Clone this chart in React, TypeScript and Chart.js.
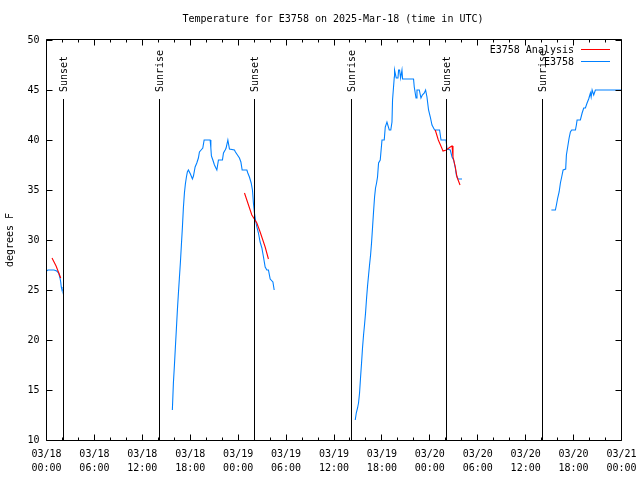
import React, { useEffect, useRef } from 'react';
import { Chart, registerables } from 'chart.js';

Chart.register(...registerables);

// ---------- text ----------
const TITLE = 'Temperature for E3758 on 2025-Mar-18 (time in UTC)';
const Y_TITLE = 'degrees F';
const SERIES_OBS = 'E3758';
const SERIES_ANA = 'E3758 Analysis';
const START_DAY = 18; // 03/18 00:00 UTC is hour 0
const X_MIN = 0;
const X_MAX = 72;
const X_STEP = 6;
const Y_MIN = 10;
const Y_MAX = 50;
const Y_STEP = 5;

// ---------- sun events (hours since 03/18 00:00) ----------
const SUNSET_HOURS = [2.129, 26.046, 50.087];
const SUNRISE_HOURS = [14.150, 38.191, 62.108];
const SUN_LINE_TOP = 44.1;

// ---------- observed E3758 (hours, degF) ----------
const OBS_H1 = [0.0, 0.19, 0.78, 0.94, 1.28, 1.53, 1.69, 1.78, 1.85, 1.94, 2.19];
const OBS_T1 = [26.9, 27.0, 27.0, 27.0, 26.9, 26.7, 26.2, 25.8, 25.3, 25.0, 25.0];

const OBS_H2 = [15.76, 15.89, 16.02, 16.14, 16.27, 16.39, 16.52, 16.64, 16.77, 16.89, 17.02, 17.14, 17.27, 17.39, 17.52, 17.64, 17.77, 18.02, 18.27, 18.40, 18.61, 18.82, 19.02, 19.15, 19.36, 19.57, 19.74, 20.49, 20.58, 20.65, 20.83, 21.03, 21.33, 21.53, 22.03, 22.16, 22.37, 22.49, 22.71, 22.91, 23.53, 23.66, 23.91, 24.16, 24.34, 24.50, 25.09, 25.21, 25.41, 25.63, 25.79, 25.91, 26.04, 26.17, 26.34, 26.54, 26.75, 26.97, 27.17, 27.38, 27.59, 27.79, 28.01, 28.35, 28.51];
const OBS_T2 = [13.0, 15.7, 17.5, 19.3, 21.2, 23.0, 24.7, 26.2, 27.8, 29.5, 31.3, 33.2, 34.7, 35.6, 36.3, 36.8, 37.0, 36.6, 36.1, 36.4, 37.3, 37.7, 38.2, 38.8, 39.0, 39.2, 40.0, 40.0, 39.2, 38.4, 38.0, 37.5, 37.0, 38.0, 38.0, 38.7, 39.0, 39.2, 40.0, 39.1, 39.0, 38.8, 38.5, 38.2, 37.8, 37.0, 37.0, 36.7, 36.3, 35.7, 35.0, 33.7, 32.7, 32.0, 31.3, 30.7, 29.8, 29.2, 28.3, 27.3, 27.0, 27.0, 26.1, 25.8, 25.0];

const OBS_H3 = [38.66, 38.79, 38.95, 39.07, 39.20, 39.32, 39.45, 39.57, 39.70, 39.82, 39.95, 40.08, 40.20, 40.33, 40.45, 40.58, 40.70, 40.83, 40.95, 41.08, 41.20, 41.33, 41.45, 41.58, 41.79, 42.01, 42.29, 42.42, 42.63, 42.92, 43.11, 43.26, 43.33, 43.55, 43.58, 43.80, 44.01, 44.09, 44.21, 44.34, 44.51, 44.59, 45.96, 46.05, 46.27, 46.39, 46.68, 46.89, 47.06, 47.31, 47.47, 47.64, 47.84, 48.06, 48.27, 48.60, 49.22, 49.40, 50.03, 50.15, 50.56, 50.78, 50.98, 51.19, 51.32, 51.53, 52.03];
const OBS_T3 = [12.0, 12.7, 13.2, 13.7, 14.7, 16.2, 17.7, 19.2, 20.5, 21.5, 22.7, 24.2, 25.4, 26.5, 27.5, 28.5, 29.7, 31.3, 32.8, 34.3, 35.2, 35.7, 36.3, 37.7, 38.0, 40.0, 40.0, 41.3, 41.8, 41.0, 41.0, 41.8, 44.0, 46.3, 47.0, 46.2, 46.2, 47.0, 47.0, 46.2, 47.0, 46.1, 46.1, 45.3, 44.2, 45.0, 45.0, 44.2, 44.5, 44.7, 45.0, 44.3, 43.0, 42.3, 41.5, 41.0, 41.0, 40.0, 40.0, 39.1, 39.0, 38.3, 38.0, 37.2, 36.5, 36.1, 36.1];

const OBS_H4 = [63.22, 63.72, 63.85, 64.01, 64.19, 64.35, 64.51, 64.69, 65.01, 65.10, 65.26, 65.44, 65.60, 65.76, 66.23, 66.35, 66.44, 66.85, 67.07, 67.27, 67.48, 67.69, 67.89, 68.11, 68.20, 68.32, 68.52, 68.73, 72.0];
const OBS_T4 = [33.0, 33.0, 33.5, 34.2, 34.8, 35.7, 36.3, 37.0, 37.1, 38.5, 39.3, 40.2, 40.8, 41.0, 41.0, 41.5, 42.0, 42.0, 42.7, 43.2, 43.2, 43.7, 44.1, 44.7, 44.3, 45.0, 44.5, 45.0, 45.0];

// ---------- analysis (hours, degF) ----------
const ANA_H1 = [0.69, 1.2, 1.78];
const ANA_T1 = [28.2, 27.4, 26.2];
const ANA_H2 = [24.79, 25.71, 26.34, 26.75, 27.38, 27.79];
const ANA_T2 = [34.7, 32.5, 31.7, 30.8, 29.3, 28.1];
const ANA_H3 = [48.68, 49.06, 49.44, 49.65, 50.06, 50.56, 50.78, 50.90, 51.19, 51.40, 51.78];
const ANA_T3 = [41.0, 40.0, 39.3, 38.9, 39.0, 39.3, 39.4, 38.3, 37.3, 36.3, 35.5];

// ---------- styles ----------
const OBS_COLOR = 'rgb(0,128,255)';
const ANA_COLOR = 'rgb(255,0,0)';
const FONT = '"DejaVu Sans Mono", "Liberation Mono", monospace';

type Pt = { x: number; y: number | null };

function segmentsToData(segs: [number[], number[]][]): Pt[] {
  const out: Pt[] = [];
  segs.forEach(([hs, ts], i) => {
    if (i > 0) {
      const prev = segs[i - 1][0];
      out.push({ x: (prev[prev.length - 1] + hs[0]) / 2, y: null });
    }
    hs.forEach((h, j) => out.push({ x: h, y: ts[j] }));
  });
  return out;
}

function fmtTick(v: number): string[] {
  const day = START_DAY + Math.floor(v / 24);
  const hr = Math.round(v % 24);
  return ['03/' + String(day).padStart(2, '0'), String(hr).padStart(2, '0') + ':00'];
}

const decorPlugin = {
  id: 'gnuDecor',
  afterDraw(chart: any) {
    const { ctx, chartArea } = chart;
    const xs = chart.scales.x;
    const ys = chart.scales.y;
    const { left, right, top, bottom } = chartArea;
    const fl = Math.floor(left) + 0.5;
    const fr = Math.floor(right) + 0.5;
    const ft = Math.floor(top) - 0.5;
    const fb = Math.floor(bottom) + 0.5;
    ctx.save();
    ctx.strokeStyle = '#000';
    ctx.lineWidth = 1;
    ctx.beginPath();
    ctx.rect(fl, ft, fr - fl, fb - ft);
    // x ticks, every 2 hours, inward on bottom and top
    for (let h = X_MIN; h <= X_MAX; h += 2) {
      const px = Math.floor(xs.getPixelForValue(h)) + 0.5;
      const len = h % X_STEP === 0 ? 6 : 3;
      ctx.moveTo(px, fb);
      ctx.lineTo(px, fb - len);
      ctx.moveTo(px, ft);
      ctx.lineTo(px, ft + len);
    }
    for (let v = Y_MIN; v <= Y_MAX; v += Y_STEP) {
      const py = Math.floor(ys.getPixelForValue(v)) + 0.5;
      ctx.moveTo(fl, py);
      ctx.lineTo(fl + 6, py);
      ctx.moveTo(fr, py);
      ctx.lineTo(fr - 6, py);
    }
    ctx.stroke();

    ctx.fillStyle = '#000';
    ctx.font = '10px ' + FONT;
    // sun labels
    const labelAt = (h: number, txt: string) => {
      const px = Math.floor(xs.getPixelForValue(h)) + 1.5;
      ctx.save();
      ctx.translate(px, 92);
      ctx.rotate(-Math.PI / 2);
      ctx.textAlign = 'left';
      ctx.textBaseline = 'middle';
      ctx.fillText(txt, 0, 0);
      ctx.restore();
    };
    SUNSET_HOURS.forEach((h) => labelAt(h, 'Sunset'));
    SUNRISE_HOURS.forEach((h) => labelAt(h, 'Sunrise'));

    // title
    ctx.textAlign = 'center';
    ctx.textBaseline = 'middle';
    ctx.fillText(TITLE, (left + right) / 2 - 1, 19);

    // y title
    ctx.save();
    ctx.translate(10, 240);
    ctx.rotate(-Math.PI / 2);
    ctx.textAlign = 'center';
    ctx.textBaseline = 'middle';
    ctx.fillText(Y_TITLE, 0, 0);
    ctx.restore();

    // legend (gnuplot style: text then line sample)
    const rows = [
      { label: SERIES_ANA, color: ANA_COLOR, y: 50 },
      { label: SERIES_OBS, color: OBS_COLOR, y: 62.5 },
    ];
    rows.forEach((r) => {
      ctx.textAlign = 'right';
      ctx.textBaseline = 'middle';
      ctx.fillStyle = '#000';
      ctx.fillText(r.label, 574, r.y);
      ctx.beginPath();
      ctx.strokeStyle = r.color;
      ctx.moveTo(581, Math.floor(r.y) - 0.5);
      ctx.lineTo(610, Math.floor(r.y) - 0.5);
      ctx.stroke();
    });
    ctx.restore();
  },
};

export default function App() {
  const ref = useRef<HTMLCanvasElement>(null);
  useEffect(() => {
    const obsData = segmentsToData([
      [OBS_H1, OBS_T1],
      [OBS_H2, OBS_T2],
      [OBS_H3, OBS_T3],
      [OBS_H4, OBS_T4],
    ]);
    const anaData = segmentsToData([
      [ANA_H1, ANA_T1],
      [ANA_H2, ANA_T2],
      [ANA_H3, ANA_T3],
    ]);
    const sunHours = [...SUNSET_HOURS, ...SUNRISE_HOURS].sort((a, b) => a - b);
    const sunData: Pt[] = [];
    sunHours.forEach((h, i) => {
      if (i > 0) sunData.push({ x: (h + sunHours[i - 1]) / 2, y: null });
      sunData.push({ x: h, y: Y_MIN });
      sunData.push({ x: h, y: SUN_LINE_TOP });
    });
    const tickFont = { family: FONT, size: 10, lineHeight: 1.33 };
    const chart = new Chart(ref.current as HTMLCanvasElement, {
      type: 'line',
      data: {
        datasets: [
          {
            label: 'sun',
            data: sunData as any,
            borderColor: '#000',
            borderWidth: 1,
            pointRadius: 0,
            spanGaps: false,
            order: 0,
          },
          {
            label: SERIES_ANA,
            data: anaData as any,
            borderColor: ANA_COLOR,
            borderWidth: 1.1,
            pointRadius: 0,
            spanGaps: false,
            order: 1,
          },
          {
            label: SERIES_OBS,
            data: obsData as any,
            borderColor: OBS_COLOR,
            borderWidth: 1.1,
            pointRadius: 0,
            spanGaps: false,
            order: 2,
          },
        ],
      },
      options: {
        animation: false,
        responsive: false,
        devicePixelRatio: 1,
        layout: { padding: { top: 40, right: 18.5, left: 0, bottom: 0 } },
        plugins: {
          legend: { display: false },
          tooltip: { enabled: false },
          title: { display: false },
        },
        scales: {
          x: {
            type: 'linear',
            min: X_MIN,
            max: X_MAX,
            grid: { display: false, drawTicks: false },
            border: { display: false },
            ticks: {
              stepSize: X_STEP,
              autoSkip: false,
              maxRotation: 0,
              color: '#000',
              font: tickFont,
              padding: 8,
              callback: (v: any) => fmtTick(Number(v)),
            },
            afterFit: (s: any) => {
              s.height = 40;
              s.paddingLeft = 0;
              s.paddingRight = 0;
            },
          },
          y: {
            type: 'linear',
            min: Y_MIN,
            max: Y_MAX,
            grid: { display: false, drawTicks: false },
            border: { display: false },
            ticks: {
              stepSize: Y_STEP,
              color: '#000',
              font: { family: FONT, size: 10 },
              padding: 7,
            },
            afterFit: (s: any) => {
              s.width = 46.5;
              s.paddingTop = 0;
              s.paddingBottom = 0;
            },
          },
        },
      },
      plugins: [decorPlugin],
    });
    return () => chart.destroy();
  }, []);
  return (
    <div style={{ position: 'fixed', left: 0, top: 0, width: 640, height: 480, background: '#fff' }}>
      <canvas ref={ref} width={640} height={480} style={{ display: 'block', width: 640, height: 480 }} />
    </div>
  );
}
